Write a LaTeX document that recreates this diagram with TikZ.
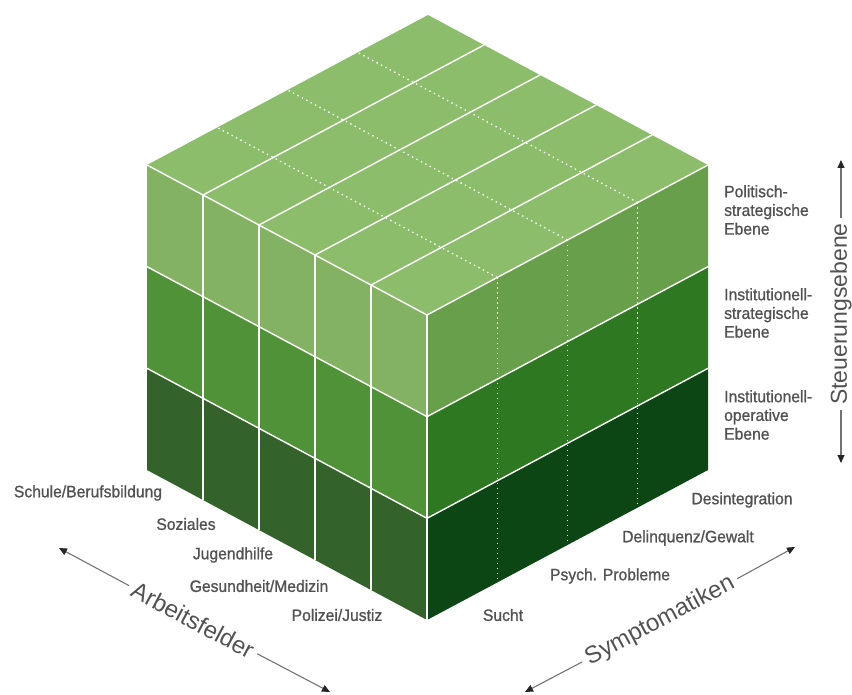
\documentclass[tikz,border=0pt]{standalone}
\usepackage{fontspec}
\setmainfont{Liberation Sans}
\newfontfamily\lblfont[FakeStretch=0.95,FakeBold=1.0]{Liberation Sans}
\usetikzlibrary{calc,arrows.meta}
\definecolor{ctop}{HTML}{8CBD6B}
\definecolor{clt}{HTML}{83B362}
\definecolor{crt}{HTML}{679F4A}
\definecolor{clm}{HTML}{509238}
\definecolor{crm}{HTML}{2E7822}
\definecolor{clb}{HTML}{33632A}
\definecolor{crb}{HTML}{0C4614}
\begin{document}
\begin{tikzpicture}[x=1pt,y=-1pt,
  wl/.style={white,line width=1.4pt},
  wd/.style={white,line width=1.3pt,dash pattern=on 1.4pt off 3.6pt},
  lbl/.style={font=\lblfont\fontsize{16.5}{18.7}\selectfont,text=black!68,inner sep=0pt,align=left},
  ttl/.style={font=\fontsize{24}{28}\selectfont,text=black!68,inner xsep=5pt,inner ysep=0pt},
  arr/.style={draw=black!55,line width=1.1pt,-{Triangle[length=8pt,width=7pt,color=black!85]}}]
\useasboundingbox (0,0) rectangle (852,695);
\coordinate (L) at (147,165);
\coordinate (F) at (427,315);
\coordinate (R) at (708,165);
\coordinate (T) at (428,15);
\coordinate (D) at (0,101.667);
% faces
\fill[ctop] (L) -- (F) -- (R) -- (T) -- cycle;
\foreach \i/\cl/\cr in {0/clt/crt,1/clm/crm,2/clb/crb}{
  \fill[\cl] ($(L)+\i*(D)$) -- ($(F)+\i*(D)$) -- ($(F)+\i*(D)+(D)$) -- ($(L)+\i*(D)+(D)$) -- cycle;
  \fill[\cr] ($(F)+\i*(D)$) -- ($(R)+\i*(D)$) -- ($(R)+\i*(D)+(D)$) -- ($(F)+\i*(D)+(D)$) -- cycle;
}
% dotted divisions (Symptomatiken)
\foreach \j in {1,2,3}{
  \draw[wd] ($(F)!\j/4!(R)$) -- ($(L)!\j/4!(T)$);
  \draw[wd] ($(F)!\j/4!(R)$) -- ++(0,305);
}
% solid divisions (Arbeitsfelder)
\foreach \k in {1,2,3,4}{
  \draw[wl] ($(L)!\k/5!(F)$) -- ($(T)!\k/5!(R)$);
  \draw[wl] ($(L)!\k/5!(F)$) -- ++(0,305);
}
% layer lines
\foreach \i in {1,2}{
  \draw[wl] ($(L)+\i*(D)$) -- ($(F)+\i*(D)$) -- ($(R)+\i*(D)$);
}
\draw[wl] (L) -- (F) -- (R);
\draw[wl] (F) -- ++(0,305);
% level labels
\node[lbl,anchor=west] (pol) at (724,210) {Politisch-\\strategische\\Ebene};
\node[lbl,anchor=west] (ins) at (724,313) {Institutionell-\\strategische\\Ebene};
\node[lbl,anchor=west] (ino) at (724,415) {Institutionell-\\operative\\Ebene};
% Arbeitsfelder labels
\node[lbl] (schule) at (88,493) {Schule/Berufsbildung};
\node[lbl] (soz) at (186,524) {Soziales};
\node[lbl] (jug) at (233,555) {Jugendhilfe};
\node[lbl] (ges) at (259,586) {Gesundheit/Medizin};
\node[lbl] (pol2) at (337,615) {Polizei/Justiz};
% Symptomatiken labels
\node[lbl] (sucht) at (503,615) {Sucht};
\node[lbl] (psych) at (610,576) {Psych. Probleme};
\node[lbl] (del) at (688,538) {Delinquenz/Gewalt};
\node[lbl] (des) at (742,500) {Desintegration};
% axes
\coordinate (a1) at (59,548);
\coordinate (a2) at (330,692);
\node[ttl,rotate=-28] (af) at (193,620) {Arbeitsfelder};
\draw[arr] (af) -- (a1);
\draw[arr] (af) -- (a2);
\coordinate (s1) at (525,692);
\coordinate (s2) at (795,547);
\node[ttl,rotate=28] (sy) at (660,621) {Symptomatiken};
\draw[arr] (sy) -- (s1);
\draw[arr] (sy) -- (s2);
\coordinate (t1) at (841,160);
\coordinate (t2) at (841,463);
\node[ttl,font=\fontsize{23}{27}\selectfont,rotate=90] (st) at (841,314) {Steuerungsebene};
\draw[arr] (st) -- (t1);
\draw[arr] (st) -- (t2);
\end{tikzpicture}
\end{document}
